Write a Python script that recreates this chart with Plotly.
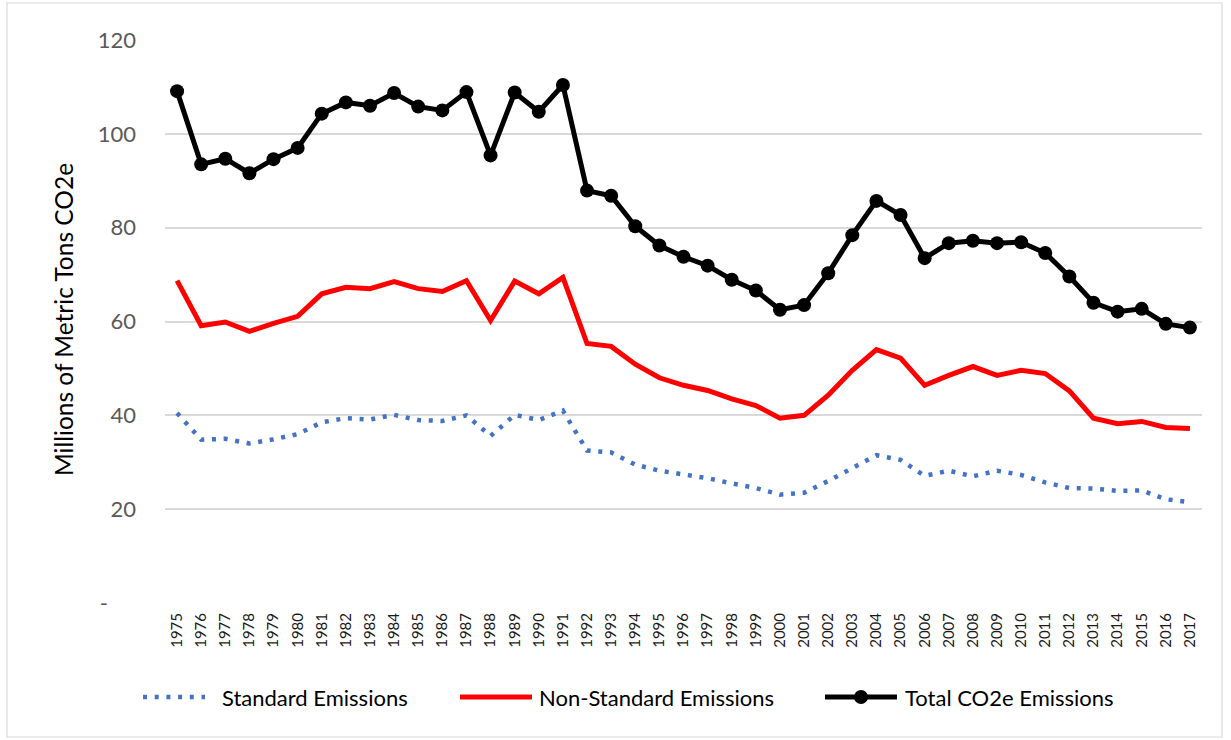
import plotly.graph_objects as go

years = [str(y) for y in range(1975, 2018)]

standard = [40.5, 34.8, 35.0, 34.0, 34.9, 36.0, 38.5, 39.4, 39.1, 40.1, 39.0, 38.8, 40.0, 35.6,
            40.1, 39.0, 41.0, 32.5, 32.1, 29.5, 28.2, 27.5, 26.6, 25.5, 24.5, 23.1, 23.5, 26.0,
            28.8, 31.5, 30.5, 27.1, 28.2, 27.0, 28.2, 27.3, 25.7, 24.5, 24.4, 23.9, 24.0, 22.1, 21.5]

non_standard = [68.7, 59.1, 59.9, 57.9, 59.6, 61.1, 65.9, 67.3, 67.0, 68.5, 67.0, 66.4, 68.7, 60.2,
                68.6, 65.9, 69.4, 55.3, 54.7, 50.9, 48.0, 46.4, 45.3, 43.5, 42.1, 39.4, 40.0, 44.3,
                49.6, 54.0, 52.2, 46.4, 48.5, 50.4, 48.5, 49.6, 48.9, 45.2, 39.4, 38.2, 38.7, 37.4, 37.2]

total = [109.1, 93.5, 94.7, 91.6, 94.6, 97.0, 104.3, 106.7, 106.0, 108.7, 105.8, 105.0, 108.9, 95.4,
         108.8, 104.7, 110.4, 87.9, 86.8, 80.3, 76.2, 73.8, 71.9, 68.9, 66.6, 62.5, 63.5, 70.3,
         78.4, 85.7, 82.7, 73.5, 76.7, 77.2, 76.7, 76.9, 74.6, 69.6, 64.0, 62.1, 62.7, 59.5, 58.7]

y_ticks = [0, 20, 40, 60, 80, 100, 120]
y_tick_text = ["-" + "\u00a0" * 5, "20", "40", "60", "80", "100", "120"]

series_names = ["Standard Emissions", "Non-Standard Emissions", "Total CO2e Emissions"]
colors = ["#4472C4", "#FF0000", "#000000"]

FONT = "Lato, 'Open Sans', sans-serif"

W, H = 1231, 740
L, R, T, B = 165, 29, 40, 137
PW, PH = W - L - R, H - T - B


def px(x):
    return (x - L) / PW


def py(y):
    return (H - B - y) / PH


DOT = "4px,7.7px"

fig = go.Figure()
fig.add_trace(go.Scatter(x=years, y=standard, name=series_names[0], mode="lines",
                         line=dict(color=colors[0], width=4.5, dash=DOT)))
fig.add_trace(go.Scatter(x=years, y=non_standard, name=series_names[1], mode="lines",
                         line=dict(color=colors[1], width=5)))
fig.add_trace(go.Scatter(x=years, y=total, name=series_names[2], mode="lines+markers",
                         line=dict(color=colors[2], width=5),
                         marker=dict(color=colors[2], size=14)))

# custom legend (line samples + labels)
ly = py(697)
legend_items = [(143, 205, 220), (460, 532, 537), (825, 897, 903)]
shapes = [dict(type="rect", xref="paper", yref="paper",
               x0=px(7), x1=px(1222), y0=py(737), y1=py(3),
               line=dict(color="#D9D9D9", width=1.2), fillcolor="rgba(0,0,0,0)", layer="below")]
annotations = []
for i, (x0, x1, tx) in enumerate(legend_items):
    if i == 0:
        shapes.append(dict(type="line", xref="paper", yref="paper", x0=px(x0), x1=px(x1),
                           y0=ly, y1=ly, line=dict(color=colors[i], width=4.5, dash=DOT)))
    else:
        shapes.append(dict(type="line", xref="paper", yref="paper", x0=px(x0), x1=px(x1),
                           y0=ly, y1=ly, line=dict(color=colors[i], width=5)))
    if i == 2:
        cx = (x0 + x1) / 2
        shapes.append(dict(type="circle", xref="paper", yref="paper",
                           x0=px(cx - 7), x1=px(cx + 7), y0=ly - 7 / PH, y1=ly + 7 / PH,
                           fillcolor=colors[i], line=dict(color=colors[i], width=0)))
    annotations.append(dict(text=series_names[i], xref="paper", yref="paper", x=px(tx), y=ly,
                            xanchor="left", yanchor="middle", showarrow=False,
                            font=dict(size=22, color="#000000", family=FONT)))

annotations.append(dict(text="Millions of Metric Tons CO2e", xref="paper", yref="paper",
                        x=px(63), y=py(320), xanchor="center", yanchor="middle", textangle=-90,
                        showarrow=False, font=dict(size=24.5, color="#000000", family=FONT)))

fig.update_layout(
    width=W, height=H,
    margin=dict(l=L, r=R, t=T, b=B),
    plot_bgcolor="white", paper_bgcolor="white",
    font=dict(family=FONT, color="#595959"),
    showlegend=False,
    xaxis=dict(type="category", range=[-0.5, 42.5], tickangle=-90, showgrid=False, zeroline=False,
               showline=False, ticks="", ticklabelstandoff=6,
               tickfont=dict(size=15, color="#1A1A1A")),
    yaxis=dict(range=[0, 120], tickvals=y_ticks, ticktext=y_tick_text,
               showgrid=True, gridcolor="#D9D9D9", gridwidth=1.5, zeroline=False,
               showline=False, ticks="", ticklabelstandoff=28,
               tickfont=dict(size=22, color="#595959")),
    shapes=shapes,
    annotations=annotations,
)

fig.write_html("out.html", config={"displayModeBar": False},
               post_script="document.body.style.margin='0';")
